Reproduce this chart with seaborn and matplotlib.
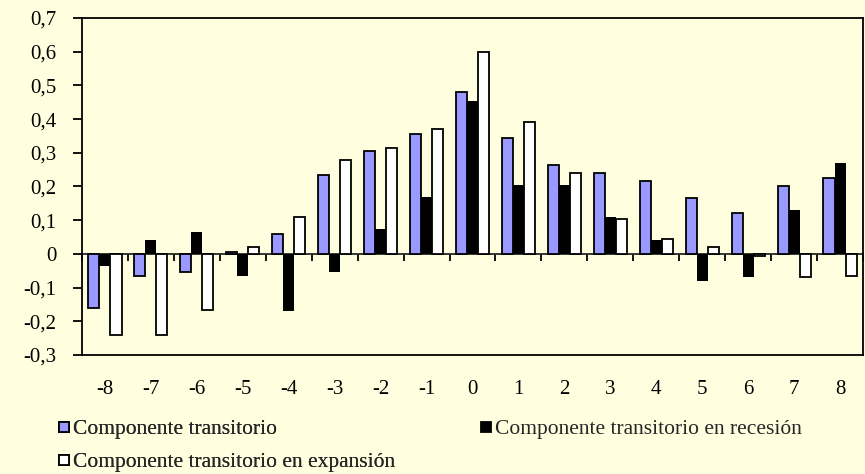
import matplotlib
matplotlib.use("Agg")
import matplotlib.pyplot as plt
import matplotlib.ticker as mticker
from matplotlib.lines import Line2D
import seaborn as sns
import pandas as pd
import numpy as np

categories = ["-8", "-7", "-6", "-5", "-4", "-3", "-2", "-1", "0",
              "1", "2", "3", "4", "5", "6", "7", "8"]
transitorio = [-0.16, -0.065, -0.055, 0.005, 0.06, 0.235, 0.305, 0.355, 0.48,
               0.345, 0.265, 0.24, 0.215, 0.165, 0.12, 0.2, 0.225]
recesion = [-0.035, 0.04, 0.065, -0.065, -0.17, -0.055, 0.075, 0.17, 0.455,
            0.205, 0.205, 0.11, 0.04, -0.08, -0.07, 0.13, 0.27]
expansion = [-0.24, -0.24, -0.165, 0.02, 0.11, 0.28, 0.315, 0.37, 0.6,
             0.39, 0.24, 0.105, 0.045, 0.02, -0.005, -0.07, -0.065]
series_names = ["Componente transitorio",
                "Componente transitorio en recesión",
                "Componente transitorio en expansión"]
yticks = [-0.3, -0.2, -0.1, 0, 0.1, 0.2, 0.3, 0.4, 0.5, 0.6, 0.7]

colors = ["#9999FF", "#000000", "#FFFFFF"]
bg = "#FFFFE0"

rows = []
for name, vals in zip(series_names, [transitorio, recesion, expansion]):
    for c, v in zip(categories, vals):
        rows.append({"lag": c, "valor": v, "serie": name})
df = pd.DataFrame(rows)

sns.set_style("white")
plt.rcParams["font.family"] = ["Liberation Serif", "DejaVu Serif"]

fig = plt.figure(figsize=(8.65, 4.74), dpi=100, facecolor=bg)
ax = fig.add_axes([82 / 865, 1 - 355 / 474, (863 - 82) / 865, (355 - 18) / 474])
ax.set_facecolor(bg)

sns.barplot(data=df, x="lag", y="valor", hue="serie", order=categories,
            hue_order=series_names, palette=colors, width=0.72,
            saturation=1, legend=False, ax=ax, errorbar=None)

nb = len(categories)
for i, p in enumerate(ax.patches):
    s = i // nb
    p.set_edgecolor("#000000")
    p.set_linewidth(0 if s == 1 else 1.3)

ax.set_ylim(-0.3, 0.7)
ax.set_xlim(-0.5, nb - 0.5)
ax.set_yticks(yticks)
ax.yaxis.set_major_formatter(mticker.FuncFormatter(
    lambda v, pos: ("%.1f" % v).replace(".", ",") if abs(v) > 1e-9 else "0"))
ax.tick_params(axis="y", which="major", direction="out", length=6.5, width=1.3,
               left=True, labelsize=15, pad=12, colors="black")
ax.tick_params(axis="x", which="major", length=0, labelsize=15, pad=18,
               colors="black")
ax.set_xlabel("")
ax.set_ylabel("")
for sp in ax.spines.values():
    sp.set_visible(True)
    sp.set_color("black")
    sp.set_linewidth(1.3)

# zero line with boundary ticks
zero_frac = (0 - (-0.3)) / (0.7 - (-0.3))
sec = ax.secondary_xaxis(zero_frac)
sec.spines["bottom"].set_linewidth(1.3)
sec.set_xticks(np.arange(-0.5, nb, 1.0))
sec.tick_params(axis="x", direction="out", length=5, width=1.3,
                labelbottom=False, colors="black")

handles = [Line2D([], [], marker="s", linestyle="none", markersize=7.5,
                  markerfacecolor=c, markeredgecolor="black", markeredgewidth=1.3)
           for c in colors]
leg_kw = dict(loc="upper left", frameon=False, fontsize=15.5, handlelength=0.55,
              handletextpad=0.15, labelspacing=0.6, borderpad=0, borderaxespad=0)
leg1 = fig.legend([handles[0], handles[2]], [series_names[0], series_names[2]],
                  bbox_to_anchor=(58 / 865, 1 - 419 / 474), **leg_kw)
fig.add_artist(leg1)
leg2 = fig.legend([handles[1]], [series_names[1]],
                  bbox_to_anchor=(480 / 865, 1 - 419 / 474), **leg_kw)

fig.savefig("out.png", dpi=100, facecolor=bg)
